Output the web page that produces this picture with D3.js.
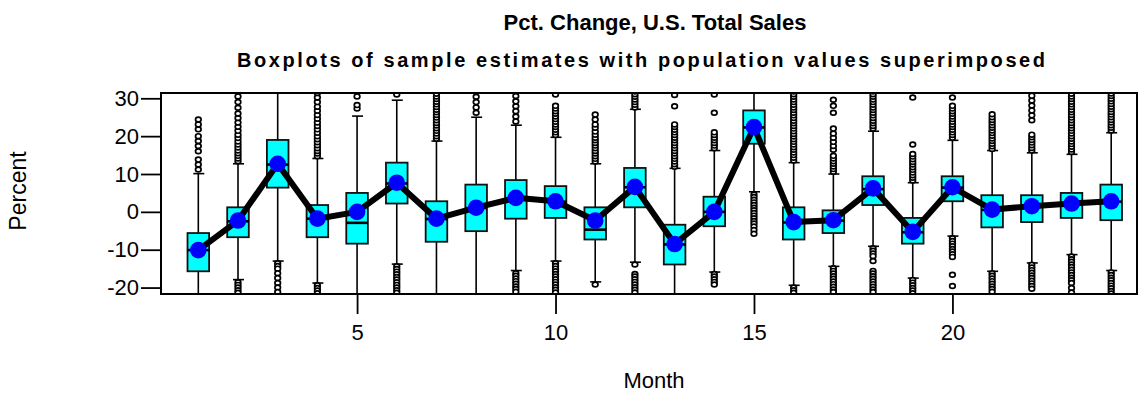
<!DOCTYPE html>
<html>
<head>
<meta charset="utf-8">
<script src="https://cdn.jsdelivr.net/npm/d3@7"></script>
<style>
  body { margin: 0; background: #fff; }
  svg { display: block; font-family: "Liberation Sans", Arial, sans-serif; }
</style>
</head>
<body>
<svg width="1139" height="394"></svg>
<script>
// month index on x axis
var months = [1, 2, 3, 4, 5, 6, 7, 8, 9, 10, 11, 12, 13, 14, 15, 16, 17, 18, 19, 20, 21, 22, 23, 24];

// population values (blue dots)
var popValues = [-10.1, -2.3, 12.7, -1.8, 0.0, 7.7, -1.8, 1.1, 3.7, 2.8, -2.3, 6.6,
                 -8.5, 0.0, 22.4, -2.7, -2.2, 6.2, -5.3, 6.5, 0.6, 1.5, 2.2, 2.8];

// boxplot summary of the sample estimates
var q1     = [-15.7, -6.7, 6.4, -6.7, -8.4, 2.2, -7.9, -5.1, -1.8, -1.6, -7.3, 1.2,
              -13.9, -3.8, 18.0, -7.3, -5.6, 1.8, -8.4, 2.8, -4.1, -2.7, -1.6, -2.2];
var median = [-10.1, -2.5, 12.5, -1.8, -2.9, 7.5, -1.9, 1.0, 3.6, 2.7, -4.7, 6.5,
              -8.6, 0.0, 22.3, -2.8, -2.3, 6.0, -5.4, 6.4, 0.5, 1.4, 2.1, 2.7];
var q3     = [-5.6, 1.2, 19.0, 1.8, 5.0, 13.0, 2.8, 7.2, 8.4, 6.8, 1.2, 11.6,
              -3.4, 4.0, 26.8, 1.2, 0.4, 9.4, -1.6, 9.4, 4.4, 4.4, 5.0, 7.2];
var whiskerLo = [-23, -17.9, -13.0, -18.8, -23, -13.8, -23, -23, -15.5, -13.0, -18.5, -13.3,
                 -23, -15.9, 5.3, -19.4, -14.4, -9.1, -17.5, -6.4, -15.7, -13.5, -11.3, -15.5];
var whiskerHi = [10.1, 12.7, 34, 14.1, 25.3, 29.5, 18.7, 25.0, 22.9, 19.7, 12.7, 27.1,
                 11.5, 16.2, 34, 13.0, 10.0, 21.3, 7.7, 18.9, 16.2, 15.6, 15.2, 20.9];

// outliers above the upper whisker, per month
var outliersHigh = [
  [11.2, 12.5, 13.8, 16.0, 17.4, 18.7, 20.0, 21.8, 23.1, 24.4],
  [13.4, 14.1, 14.8, 15.5, 16.2, 17.0, 17.8, 18.6, 19.5, 20.4, 21.4, 22.5, 23.6, 24.8, 26.0, 27.5, 29.0, 30.5, 32.0],
  [],
  [14.7, 15.4, 16.1, 16.8, 17.6, 18.4, 19.2, 20.0, 20.9, 21.8, 22.7, 23.6, 24.6, 25.6, 26.7, 27.8, 29.0, 30.2, 31.4, 32.6],
  [27.3, 28.2, 30.5],
  [31.0, 32.3],
  [19.3, 20.0, 20.7, 21.4, 22.1, 22.8, 23.5, 24.2, 24.9, 25.6, 26.3, 27.0, 27.7, 28.4, 29.1, 29.8, 30.5, 31.2, 32.0],
  [26.2, 27.6, 29.0, 30.4, 32.0],
  [23.9, 25.2, 26.6, 27.9, 29.2, 30.6, 32.0],
  [20.3, 21.0, 21.7, 22.4, 23.1, 23.8, 24.5, 25.2, 25.9, 26.6, 27.3, 28.0, 31.0],
  [13.3, 14.0, 14.7, 15.4, 16.1, 16.8, 17.5, 18.2, 18.9, 19.6, 20.4, 21.2, 22.2, 23.1, 24.4, 25.7],
  [27.6, 28.3, 29.0, 29.7, 30.4, 31.1, 31.8, 32.5],
  [11.9, 12.6, 13.3, 14.0, 14.7, 15.4, 16.1, 16.8, 17.5, 18.2, 18.9, 19.6, 20.3, 21.0, 21.7, 22.4, 23.1, 27.9, 30.9],
  [16.8, 17.5, 18.2, 18.9, 19.6, 20.3, 21.0, 26.2, 31.0],
  [],
  [13.6, 14.3, 15.0, 15.7, 16.4, 17.1, 17.8, 18.5, 19.2, 19.9, 20.6, 21.3, 22.0, 22.7, 23.4, 24.1, 24.8, 25.5, 26.2, 26.9, 27.6, 28.3, 29.0, 29.7, 30.4, 31.1, 31.8, 32.5],
  [10.6, 11.3, 12.0, 12.7, 13.4, 14.1, 14.8, 16.4, 17.4, 18.5, 19.6, 20.7, 22.0, 26.2, 28.0, 29.6],
  [22.0, 22.7, 23.4, 24.1, 24.8, 25.5, 26.2, 26.9, 27.6, 28.3, 29.0, 29.7, 30.4, 31.1, 31.8, 32.5],
  [8.3, 9.0, 9.7, 10.4, 11.1, 11.8, 12.5, 13.2, 13.9, 14.6, 15.3, 17.8, 30.2],
  [19.6, 20.3, 21.0, 21.7, 22.4, 23.1, 23.8, 24.5, 25.2, 25.9, 26.6, 27.3, 28.0, 30.2],
  [16.6, 17.3, 18.0, 18.7, 19.4, 20.1, 20.8, 21.5, 22.2, 22.9, 23.6, 24.3, 25.0, 25.8],
  [16.2, 16.9, 17.6, 18.3, 19.0, 19.7, 20.4, 24.2, 25.5, 26.8, 28.1, 29.4, 30.7, 32.0],
  [15.8, 16.5, 17.2, 17.9, 18.6, 19.3, 20.0, 20.7, 21.4, 22.1, 22.8, 23.5, 24.2, 24.9, 25.6, 26.3, 27.0, 27.7, 28.4, 29.1, 29.8, 30.5, 31.2, 32.0],
  [21.5, 22.2, 22.9, 23.6, 24.3, 25.0, 25.7, 26.4, 27.1, 27.8, 28.5, 29.2, 29.9, 30.6, 31.3, 32.0, 32.7]
];

// outliers below the lower whisker, per month
var outliersLow = [
  [],
  [-18.6, -19.3, -20.0, -20.7, -21.4],
  [-13.6, -14.3, -15.0, -16.2, -17.5, -18.8, -20.0, -21.2],
  [-19.4, -20.1, -20.8, -21.5],
  [],
  [-14.4, -15.1, -15.8, -16.5, -17.2, -17.9, -18.6, -19.3, -20.0, -20.7, -21.4],
  [],
  [],
  [-16.2, -16.9, -17.6, -18.3, -19.0, -19.7, -20.4, -21.1],
  [-13.6, -14.3, -15.0, -15.7, -16.4, -17.1, -17.8, -18.5, -19.2, -19.9, -20.6, -21.3],
  [-19.2],
  [-13.9, -16.4, -17.1, -17.8, -18.5, -19.2, -19.9, -20.6, -21.3],
  [],
  [-16.4, -17.1, -17.8, -18.5, -19.2],
  [4.6, 3.9, 3.2, 2.5, 1.8, 1.1, 0.4, -0.3, -1.0, -1.7, -2.4, -3.1, -3.9, -4.8, -5.8],
  [-20.0, -20.7, -21.4],
  [-14.9, -15.6, -16.3, -17.0, -17.7, -18.4, -19.1, -19.8, -20.5, -21.2],
  [-9.6, -10.3, -11.0, -11.7, -13.0, -15.6, -16.3, -17.0, -17.7, -18.4, -19.1, -19.8, -20.5, -21.2],
  [-18.0, -18.7, -19.4, -20.1, -20.8, -21.5],
  [-7.0, -7.7, -8.4, -9.1, -9.8, -10.5, -11.2, -11.9, -16.6, -19.6],
  [-16.2, -16.9, -17.6, -18.3, -19.0, -19.7, -20.4, -21.1],
  [-14.0, -14.7, -15.4, -16.1, -16.8, -17.5, -18.2, -18.9, -19.6, -20.3],
  [-11.8, -12.5, -13.2, -13.9, -14.6, -15.3, -16.0, -16.7, -17.4, -18.1, -18.8, -20.1, -21.3],
  [-16.0, -16.7, -17.4, -18.1, -18.8, -19.5, -20.2, -20.9, -21.6]
];

var yTickValues = [30, 20, 10, 0, -10, -20];
var xTickValues = [5, 10, 15, 20];

var svg = d3.select("svg");
var margin = {top: 93, right: 2, bottom: 100, left: 161};
var width = svg.attr("width") - margin.left - margin.right;
var height = svg.attr("height") - margin.top - margin.bottom;
var g = svg.append("g").attr("transform", "translate(" + margin.left + "," + margin.top + ")");

var x = d3.scaleLinear().domain([0.06, 24.65]).range([0, width]);
var y = d3.scaleLinear().domain([-21.7, 31.4]).range([height, 0]);

var rows = months.map(function(m, i) {
  return {month: m, pop: popValues[i], q1: q1[i], med: median[i], q3: q3[i],
          lo: whiskerLo[i], hi: whiskerHi[i], out: outliersHigh[i].concat(outliersLow[i])};
});

svg.append("defs").append("clipPath").attr("id", "plotclip")
  .append("rect").attr("width", width).attr("height", height);

var plot = g.append("g").attr("clip-path", "url(#plotclip)");
var boxW = 21.6;

// whiskers
plot.selectAll(".whisker")
  .data(rows)
  .enter().append("line")
    .attr("class", "whisker")
    .attr("x1", function(d) { return x(d.month); })
    .attr("x2", function(d) { return x(d.month); })
    .attr("y1", function(d) { return y(d.lo); })
    .attr("y2", function(d) { return y(d.hi); })
    .attr("stroke", "#000")
    .attr("stroke-width", 1.6);

// whisker caps
var caps = [];
rows.forEach(function(d) {
  caps.push({month: d.month, v: d.lo});
  caps.push({month: d.month, v: d.hi});
});
plot.selectAll(".cap")
  .data(caps)
  .enter().append("line")
    .attr("class", "cap")
    .attr("x1", function(d) { return x(d.month) - 5; })
    .attr("x2", function(d) { return x(d.month) + 6; })
    .attr("y1", function(d) { return y(d.v); })
    .attr("y2", function(d) { return y(d.v); })
    .attr("stroke", "#000")
    .attr("stroke-width", 1.6);

// outliers
var outs = [];
rows.forEach(function(d) {
  d.out.forEach(function(v) { outs.push({month: d.month, v: v}); });
});
plot.selectAll(".outlier")
  .data(outs)
  .enter().append("ellipse")
    .attr("class", "outlier")
    .attr("cx", function(d) { return x(d.month); })
    .attr("cy", function(d) { return y(d.v); })
    .attr("rx", 2.8)
    .attr("ry", 2.4)
    .attr("fill", "#fff")
    .attr("stroke", "#000")
    .attr("stroke-width", 1.7);

// boxes
plot.selectAll(".box")
  .data(rows)
  .enter().append("rect")
    .attr("class", "box")
    .attr("x", function(d) { return x(d.month) - boxW / 2; })
    .attr("y", function(d) { return y(d.q3); })
    .attr("width", boxW)
    .attr("height", function(d) { return y(d.q1) - y(d.q3); })
    .attr("fill", "#00ffff")
    .attr("stroke", "#111")
    .attr("stroke-width", 1.8);

plot.selectAll(".median")
  .data(rows)
  .enter().append("line")
    .attr("class", "median")
    .attr("x1", function(d) { return x(d.month) - boxW / 2; })
    .attr("x2", function(d) { return x(d.month) + boxW / 2; })
    .attr("y1", function(d) { return y(d.med); })
    .attr("y2", function(d) { return y(d.med); })
    .attr("stroke", "#000")
    .attr("stroke-width", 2.6);

// population line + dots
var line = d3.line()
  .x(function(d) { return x(d.month); })
  .y(function(d) { return y(d.pop); });

g.append("path")
  .datum(rows)
  .attr("d", line)
  .attr("fill", "none")
  .attr("stroke", "#000")
  .attr("stroke-width", 6)
  .attr("stroke-linejoin", "round");

g.selectAll(".dot")
  .data(rows)
  .enter().append("circle")
    .attr("class", "dot")
    .attr("cx", function(d) { return x(d.month); })
    .attr("cy", function(d) { return y(d.pop); })
    .attr("r", 8.3)
    .attr("fill", "#0000ff");

// axes
var yAxis = g.append("g")
  .call(d3.axisLeft(y).tickValues(yTickValues).tickSize(20).tickPadding(2)
    .tickFormat(function(d) { return String(d); }));
var xAxis = g.append("g")
  .attr("transform", "translate(0," + height + ")")
  .call(d3.axisBottom(x).tickValues(xTickValues).tickSize(20).tickPadding(10)
    .tickFormat(function(d) { return String(d); }));

[yAxis, xAxis].forEach(function(a) {
  a.select(".domain").remove();
  a.selectAll(".tick line").attr("stroke", "#000").attr("stroke-width", 1.8);
  a.selectAll(".tick text")
    .attr("fill", "#000")
    .style("font-family", "'Liberation Sans', Arial, sans-serif")
    .style("font-size", "22px");
});

// frame
g.append("rect")
  .attr("width", width)
  .attr("height", height)
  .attr("fill", "none")
  .attr("stroke", "#000")
  .attr("stroke-width", 2);

// titles and axis labels
svg.append("text")
  .attr("x", 655).attr("y", 30)
  .attr("text-anchor", "middle")
  .style("font-size", "22px").style("font-weight", "bold")
  .text("Pct. Change, U.S. Total Sales");

svg.append("text")
  .attr("x", 641).attr("y", 67)
  .attr("text-anchor", "middle")
  .attr("textLength", 808).attr("lengthAdjust", "spacing")
  .style("font-size", "20px").style("font-weight", "bold")
  .text("Boxplots of sample estimates with population values superimposed");

svg.append("text")
  .attr("transform", "translate(26,191) rotate(-90)")
  .attr("text-anchor", "middle")
  .style("font-size", "23px")
  .text("Percent");

svg.append("text")
  .attr("x", 654).attr("y", 388)
  .attr("text-anchor", "middle")
  .style("font-size", "22px")
  .text("Month");
</script>
</body>
</html>
